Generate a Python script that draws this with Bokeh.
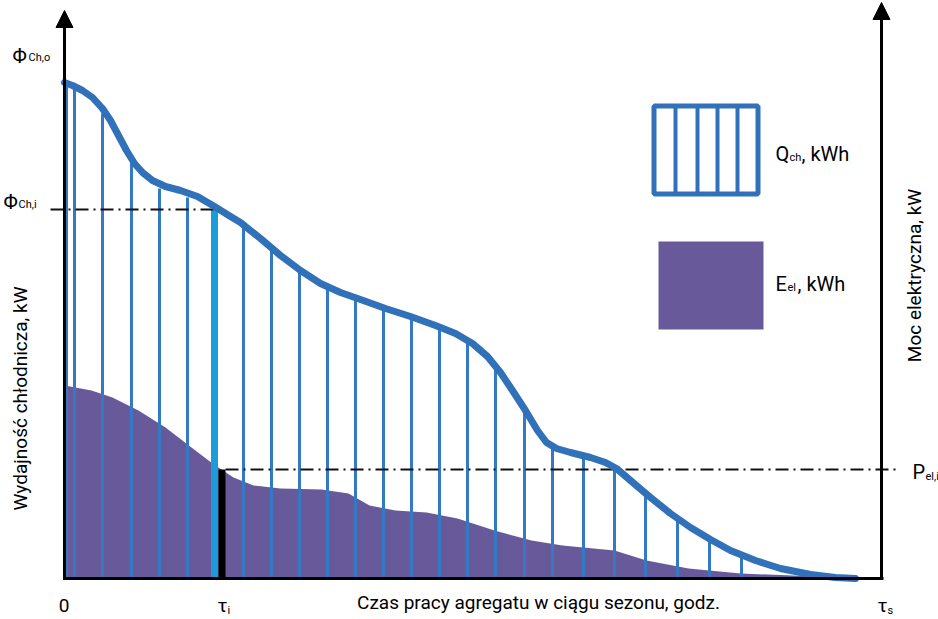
from bokeh.plotting import figure
from bokeh.models import Range1d, Arrow, NormalHead
from bokeh.core.properties import value
from bokeh.embed import file_html
from bokeh.resources import INLINE

# ---- data (schematic units: time from 0 to tau_s, power/capacity) ----
t_curve = [0, 8, 18, 28, 38, 46, 54, 62, 70, 78, 88, 101, 116, 133, 150, 166, 176,
           196, 216, 236, 256, 276, 296, 321, 346, 371, 391, 408, 423, 436, 448,
           461, 473, 482, 492, 506, 526, 541, 552, 566, 586, 606, 626, 646, 666,
           691, 716, 746, 771, 791]
phi_curve = [496, 493, 488, 481, 470, 458, 443, 428, 415, 406, 398, 392, 388, 382,
             372, 362, 356, 340, 323, 308, 295, 286, 279, 270, 262, 253, 245, 235,
             222, 206, 188, 168, 148, 136, 130, 126, 121, 116, 110, 98, 81, 65, 51,
             39, 28, 18, 10, 4, 1, 0]

t_el = [0, 27, 48, 74, 101, 127, 148, 169, 189, 216, 257, 284, 305, 331, 362,
        393, 430, 467, 498, 550, 582, 624, 676, 728, 786]
p_el = [193, 188, 181, 168, 151, 131, 115, 101, 93, 90, 89, 85, 73, 68, 66,
        60, 48, 38, 33, 28, 18, 10, 5, 3, 0]

hatch_t = [2, 10, 38, 67, 95, 123, 179, 207, 235, 263, 291, 319, 347, 375, 403,
           431, 460, 488, 519, 550, 581, 613, 645, 677]
hatch_top = [495, 489, 465, 416, 390, 381, 351, 329, 308, 291, 280, 270, 261, 251,
             238, 213, 169, 131, 120, 111, 86, 61, 41, 25]

tau_i = 150
phi_ch_i = 369
p_el_i = 109
tau_s = 817

FONT = value("Roboto")
BLUE = "#3071b9"
HATCH = "#3479c3"
PURPLE = "#685a9a"
CYAN = "#1c9dda"

p = figure(width=938, height=619, output_backend="svg", toolbar_location=None,
           x_axis_location=None, y_axis_location=None, min_border=0,
           x_range=Range1d(-64, 874), y_range=Range1d(-41, 578))
p.grid.visible = False
p.outline_line_color = None
p.background_fill_color = "white"
p.border_fill_color = "white"

# electrical energy area
p.varea(x=t_el, y1=[0] * len(t_el), y2=p_el, fill_color=PURPLE)

# hatch lines of cooling energy
p.segment(x0=hatch_t, y0=[0] * len(hatch_t), x1=hatch_t, y1=hatch_top,
          line_color=HATCH, line_width=3)

# tau_i bars
p.segment(x0=[tau_i], y0=[0], x1=[tau_i], y1=[phi_ch_i], line_color=CYAN, line_width=7)
p.segment(x0=[tau_i + 7.5], y0=[0], x1=[tau_i + 7.5], y1=[p_el_i], line_color="black",
          line_width=7)

# dash-dot guide lines
p.line(x=[-14, tau_i - 1], y=[phi_ch_i, phi_ch_i], line_color="#111111", line_width=2,
       line_dash="13 5 2 5")
p.line(x=[tau_i + 11, tau_s + 19], y=[p_el_i, p_el_i], line_color="#111111", line_width=2,
       line_dash="13 5 2 5")

# cooling capacity curve
p.line(x=t_curve, y=phi_curve, line_color=BLUE, line_width=7, line_join="round",
       line_cap="round")

# axes with arrows
p.segment(x0=[0], y0=[0], x1=[tau_s + 2], y1=[0], line_color="black", line_width=3)
p.add_layout(Arrow(end=NormalHead(size=17, fill_color="black", line_color="black"),
                   x_start=0, y_start=-1.5, x_end=0, y_end=568,
                   line_color="black", line_width=3))
p.add_layout(Arrow(end=NormalHead(size=17, fill_color="black", line_color="black"),
                   x_start=tau_s, y_start=-1.5, x_end=tau_s, y_end=576,
                   line_color="black", line_width=3))

# legend
p.rect(x=[641.5], y=[428.5], width=104, height=88, fill_color="white",
       line_color=BLUE, line_width=5)
p.segment(x0=[611, 633, 653, 673], y0=[473] * 4, x1=[611, 633, 653, 673], y1=[384] * 4,
          line_color=BLUE, line_width=4)
p.rect(x=[646.5], y=[293], width=105, height=88, fill_color=PURPLE, line_color=None)


def txt(x, y, s, size, align="left", baseline="alphabetic", angle=0):
    p.text(x=[x], y=[y], text=[s], text_font=FONT, text_font_size=f"{size}px",
           text_color="black", text_align=align, text_baseline=baseline, angle=angle)


# legend labels
txt(711, 425, "Q", 20)
txt(725, 421, "ch", 11)
txt(737, 425, ", kWh", 20)
txt(711, 295, "E", 20)
txt(723, 291, "el", 11)
txt(733, 295, ", kWh", 20)

# axis labels
txt(-52, 523, "Φ", 20)
txt(-36, 521, "Ch,o", 11)
txt(-61, 377, "Φ", 20)
txt(-46, 374, "Ch,i", 11)
txt(848, 107, "P", 20)
txt(861, 102, "el,i", 11)
txt(-0.5, -27, "0", 19, align="center")
txt(153, -27, "τ", 19)
txt(163, -32, "i", 11)
txt(813, -27, "τ", 19)
txt(823, -32, "s", 11)
txt(474, -24, "Czas pracy agregatu w ciągu sezonu, godz.", 19, align="center")
txt(-44, 180, "Wydajność chłodnicza, kW", 19, align="center", baseline="middle",
    angle=1.5708)
txt(850, 303, "Moc elektryczna, kW", 19, align="center", baseline="middle", angle=1.5708)

open("out.html", "w").write(file_html(p, INLINE))
